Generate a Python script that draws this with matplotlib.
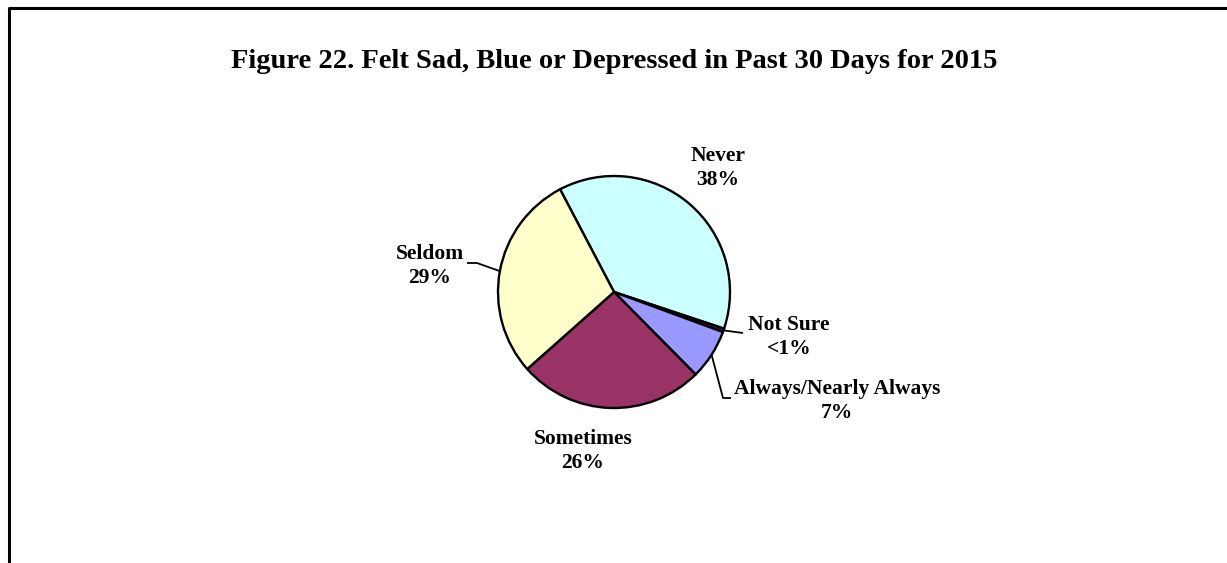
import numpy as np
import matplotlib.pyplot as plt

# survey responses, clockwise from the top
labels = ['Never', 'Not Sure', 'Always/Nearly Always', 'Sometimes', 'Seldom']
shares = [38, 0.5, 7, 26, 29]
pct_text = ['38%', '<1%', '7%', '26%', '29%']
colors = ['#CCFFFF', '#660066', '#9999FF', '#993366', '#FFFFCC']

title = 'Figure 22. Felt Sad, Blue or Depressed in Past 30 Days for 2015'

W, H = 1227, 563
fig = plt.figure(figsize=(W / 100, H / 100), dpi=100)
ax = fig.add_axes([0, 0, 1, 1])

plt.rcParams['font.family'] = ['Liberation Serif', 'DejaVu Serif']

cx, cy, R = 614, H - 292, 116
start = 117.7
wedges, _ = ax.pie(shares, colors=colors, startangle=start, counterclock=False,
                   center=(cx, cy), radius=R, frame=True,
                   wedgeprops=dict(edgecolor='black', linewidth=1.7))
ax.set_xlim(0, W)
ax.set_ylim(0, H)
ax.set_aspect('equal')
ax.axis('off')

# label text positions (px from top-left) and leader elbows
lab_pos = {
    'Never': (718, 168),
    'Not Sure': (789, 337),
    'Always/Nearly Always': (837, 401),
    'Sometimes': (583, 451),
    'Seldom': (430, 266),
}
elbows = {
    'Not Sure': [(743, 333)],
    'Always/Nearly Always': [(723, 398), (731, 398)],
    'Seldom': [(477, 263), (467, 263)],
}

for w, lab, pt in zip(wedges, labels, pct_text):
    x, y = lab_pos[lab]
    ax.text(x, H - y, lab + '\n' + pt, ha='center', va='center',
            fontsize=15.5, fontweight='bold', linespacing=1.32)
    if lab in elbows:
        mid = np.deg2rad((w.theta1 + w.theta2) / 2)
        px = [cx + R * np.cos(mid)] + [e[0] for e in elbows[lab]]
        py = [cy + R * np.sin(mid)] + [H - e[1] for e in elbows[lab]]
        ax.plot(px, py, color='black', lw=1.3, solid_capstyle='butt')

ax.text(614, H - 61, title, ha='center', va='center', fontsize=20.5, fontweight='bold')

# frame edges at top and left
ax.plot([9, 9, W], [0, H - 7.5, H - 7.5], color='black', lw=2.2)

fig.savefig('out.png', dpi=100)
